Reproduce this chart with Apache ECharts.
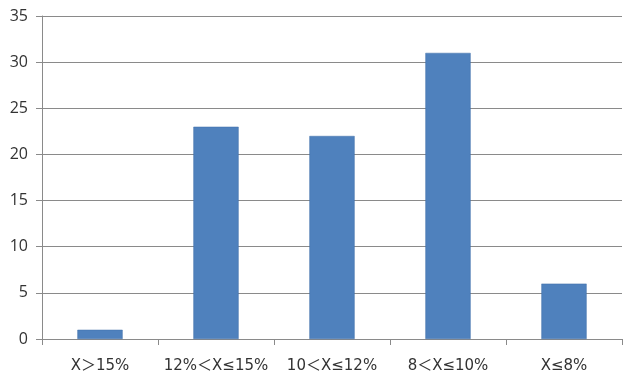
<!DOCTYPE html>
<html><head><meta charset="utf-8">
<script src="https://cdn.jsdelivr.net/npm/echarts@6/dist/echarts.min.js"></script>
<style>html,body{margin:0;padding:0;background:#fff}#c{width:640px;height:381px}</style>
</head><body><div id="c"></div>
<script>
const categories = ["X＞15%", "12%＜X≤15%", "10＜X≤12%", "8＜X≤10%", "X≤8%"];
const values = [1, 23, 22, 31, 6];
const yTicks = {min: 0, max: 35, interval: 5};

const chart = echarts.init(document.getElementById('c'), null, {renderer: 'canvas'});
chart.setOption({
  animation: false,
  backgroundColor: '#ffffff',
  grid: {left: 42, right: 18, top: 16, bottom: 42, containLabel: false},
  xAxis: {
    type: 'category',
    data: categories,
    axisLine: {lineStyle: {color: '#8a8a8a', width: 1}},
    axisTick: {show: true, length: 6, lineStyle: {color: '#8a8a8a'}},
    axisLabel: {interval: 0, hideOverlap: false, color: '#333', fontSize: 15,
      fontFamily: '"DejaVu Sans", "Noto Sans CJK SC", sans-serif', margin: 20}
  },
  yAxis: {
    type: 'value',
    min: yTicks.min, max: yTicks.max, interval: yTicks.interval,
    axisLine: {show: true, lineStyle: {color: '#8a8a8a', width: 1}},
    axisTick: {show: true, length: 6, lineStyle: {color: '#8a8a8a'}},
    splitLine: {lineStyle: {color: '#8a8a8a', width: 1}},
    axisLabel: {color: '#333', fontSize: 16, fontFamily: '"Open Sans", sans-serif', margin: 14}
  },
  series: [{
    type: 'bar',
    data: values,
    barWidth: '39%',
    itemStyle: {color: '#4f81bd', borderColor: '#3f6fa8', borderWidth: 0.5}
  }]
});
</script></body></html>
